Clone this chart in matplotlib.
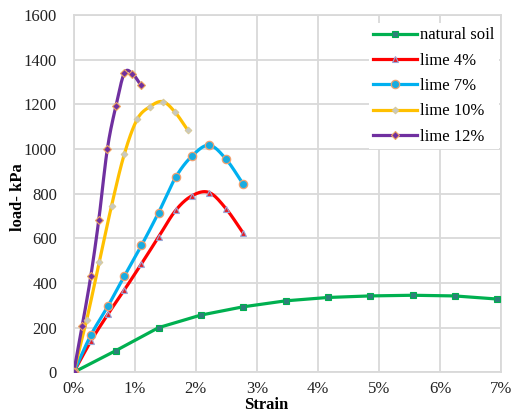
import numpy as np
import matplotlib
matplotlib.use("Agg")
import matplotlib.pyplot as plt
from matplotlib.ticker import FuncFormatter

plt.rcParams['font.family'] = ['Liberation Serif', 'DejaVu Serif']

# strain (%) and load (kPa) for each mix
strain_soil = [0, 0.69, 1.39, 2.08, 2.77, 3.47, 4.16, 4.85, 5.55, 6.24, 6.94]
load_soil = [0, 97, 200, 256, 293, 320, 335, 342, 345, 342, 328]

strain_l4 = [0, 0.28, 0.56, 0.83, 1.11, 1.39, 1.67, 1.94, 2.22, 2.50, 2.78]
load_l4 = [0, 139, 260, 369, 486, 606, 725, 791, 805, 731, 622]

strain_l7 = [0, 0.28, 0.56, 0.83, 1.11, 1.39, 1.67, 1.94, 2.22, 2.50, 2.78]
load_l7 = [0, 166, 296, 431, 568, 715, 873, 969, 1017, 953, 841]

strain_l10 = [0, 0.21, 0.42, 0.62, 0.83, 1.04, 1.25, 1.46, 1.66, 1.87]
load_l10 = [0, 232, 495, 746, 978, 1133, 1190, 1212, 1165, 1084]

strain_l12 = [0, 0.14, 0.28, 0.41, 0.55, 0.69, 0.83, 0.96, 1.10]
load_l12 = [0, 209, 431, 681, 998, 1191, 1340, 1338, 1286]

labels = ['natural soil', 'lime 4%', 'lime 7%', 'lime 10%', 'lime 12%']


def smooth(x, y, n=20):
    # catmull-rom path through the points, like a spreadsheet "smoothed line"
    x = np.asarray(x, float)
    y = np.asarray(y, float)
    px = np.concatenate([[2 * x[0] - x[1]], x, [2 * x[-1] - x[-2]]])
    py = np.concatenate([[2 * y[0] - y[1]], y, [2 * y[-1] - y[-2]]])
    t = np.linspace(0, 1, n)[:, None]
    xs, ys = [], []
    for i in range(1, len(px) - 2):
        for p, out in ((px, xs), (py, ys)):
            p0, p1, p2, p3 = p[i - 1], p[i], p[i + 1], p[i + 2]
            seg = 0.5 * ((2 * p1) + (-p0 + p2) * t + (2 * p0 - 5 * p1 + 4 * p2 - p3) * t ** 2
                         + (-p0 + 3 * p1 - 3 * p2 + p3) * t ** 3)
            out.append(seg.ravel())
    return np.concatenate(xs), np.concatenate(ys)


fig = plt.figure(figsize=(5.22, 4.17), dpi=100)
ax = fig.add_axes([0.1412, 0.1072, 0.8186, 0.8568])

series = [
    (strain_soil, load_soil, '#00B050', dict(marker='s', ms=5, mfc='#2F7F7A', mec='#00B050', mew=0.8), False),
    (strain_l4, load_l4, '#FF0000', dict(marker='^', ms=5, mfc='#E0202A', mec='#9AA6D8', mew=0.8), True),
    (strain_l7, load_l7, '#00B0F0', dict(marker='o', ms=6, mfc='#1AACE0', mec='#F0A070', mew=0.9), True),
    (strain_l10, load_l10, '#FFC000', dict(marker='D', ms=3.5, mfc='#C8C8C0', mec='#D8C890', mew=0.6), True),
    (strain_l12, load_l12, '#7030A0', dict(marker='D', ms=4, mfc='#7030A0', mec='#F0A860', mew=0.8), True),
]

for (x, y, color, mk, curved), label in zip(series, labels):
    if curved:
        sx, sy = smooth(x, y)
    else:
        sx, sy = x, y
    ax.plot(sx, sy, color=color, lw=2.3, solid_capstyle='round', zorder=3)
    ax.plot(x, y, ls='none', zorder=4, **mk)
    ax.plot([], [], color=color, lw=2.3, label=label, **mk)

ax.set_xlim(0, 7)
ax.set_ylim(0, 1600)
ax.set_xticks(np.arange(0, 8, 1))
ax.set_yticks(np.arange(0, 1601, 200))
ax.xaxis.set_major_formatter(FuncFormatter(lambda v, p: f'{v:.0f}%'))
ax.grid(True, color='#D9D9D9', lw=1.3)
ax.set_axisbelow(True)
for s in ax.spines.values():
    s.set_color('#D9D9D9')
    s.set_linewidth(1.3)
ax.tick_params(length=0, labelsize=12, colors='#222222')
ax.tick_params(axis='y', pad=12)
ax.tick_params(axis='x', pad=6)

ax.set_xlabel('Strain', fontsize=12, fontweight='bold')
ax.xaxis.set_label_coords(0.45, -0.07)
ax.set_ylabel('load- kPa', fontsize=12, fontweight='bold')
ax.yaxis.set_label_coords(-0.112, 0.49)

leg = ax.legend(loc='upper right', bbox_to_anchor=(1.0, 0.984), fontsize=12, frameon=True,
                facecolor='white', edgecolor='none', framealpha=1, fancybox=False,
                handlelength=2.6, handletextpad=0.2, labelspacing=0.56, borderpad=0.25,
                borderaxespad=0.15)

fig.savefig('out.png', dpi=100)
